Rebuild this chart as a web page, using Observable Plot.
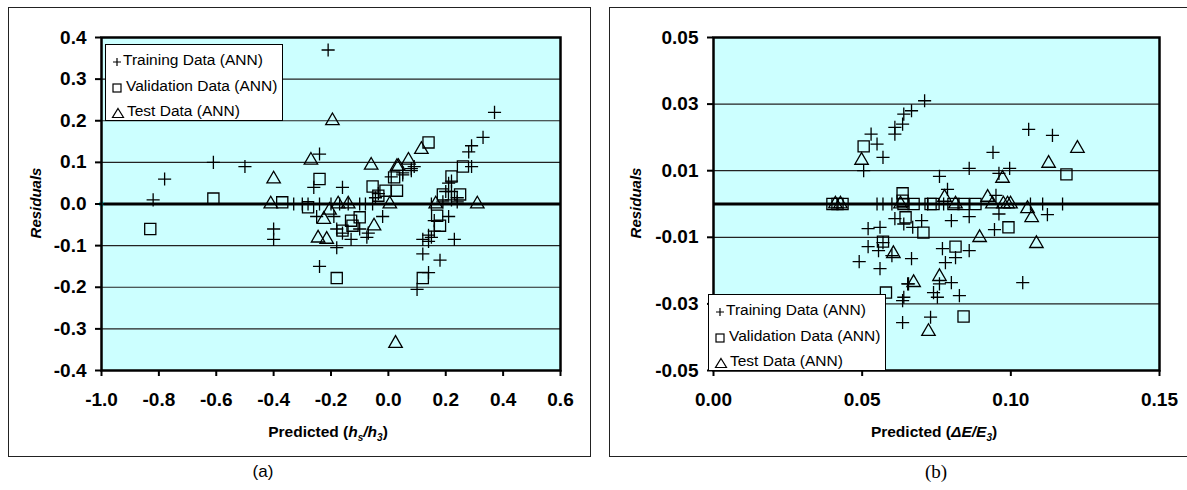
<!DOCTYPE html>
<html><head><meta charset="utf-8">
<script src="https://cdn.jsdelivr.net/npm/d3@7"></script>
<script src="https://cdn.jsdelivr.net/npm/@observablehq/plot@0.6"></script>
<style>
body{margin:0;background:#fff;font-family:"Liberation Sans",Arial,sans-serif;}
#root{position:relative;width:1187px;height:490px;overflow:hidden;background:#fff;}
.frame{position:absolute;border:1.5px solid #222;box-sizing:border-box;}
.panel{position:absolute;}
.ytitle{position:absolute;font-weight:bold;font-style:italic;font-size:15px;transform:translate(-50%,-50%) rotate(-90deg);white-space:nowrap;}
.xtitle{position:absolute;font-weight:bold;font-size:15.5px;transform:translate(-50%,-50%);white-space:nowrap;}
.caption{position:absolute;font-size:17px;transform:translate(-50%,-50%);white-space:nowrap;}
.legend{position:absolute;background:#fff;border:1px solid #000;box-sizing:border-box;font-size:15.5px;width:178px;height:77px;}
.legend .sym{position:absolute;}
.legend .lab{position:absolute;white-space:nowrap;transform:translateY(-50%);}
</style></head><body><div id="root"></div>
<script>
// ---------- Data ----------
const seriesNames = ["Training Data (ANN)", "Validation Data (ANN)", "Test Data (ANN)"];

// Panel (a): Predicted (hs/h3) vs residuals
const trainingA = [
[-0.82,0.01],[-0.78,0.06],[-0.61,0.10],[-0.50,0.09],[-0.40,-0.06],[-0.40,-0.085],
[-0.21,0.37],[-0.24,0.12],[-0.26,0.04],[-0.16,0.04],
[-0.33,0],[-0.30,0],[-0.28,0],[-0.24,0],[-0.20,0],[-0.17,0],[-0.14,0],[-0.10,0],[-0.08,0],[-0.055,0],
[-0.25,-0.03],[-0.19,-0.03],[-0.18,-0.06],[-0.16,-0.07],[-0.13,-0.085],[-0.10,-0.06],[-0.07,-0.07],[-0.075,-0.08],[-0.02,-0.03],[-0.18,-0.105],[-0.24,-0.15],
[0.37,0.22],[0.33,0.16],[0.29,0.14],[0.28,0.125],[0.08,0.08],[0.05,0.07],[0.29,0.09],[0.21,0.05],[0.20,0.03],[0.22,0.03],[0.24,0.015],
[0.21,-0.03],[0.16,-0.04],[0.16,-0.065],[0.15,-0.08],[0.14,-0.09],[0.23,-0.085],[0.12,-0.12],[0.18,-0.135],[0.14,-0.165],[0.10,-0.205],
[0.15,0],[0.19,0.005],[0.24,0.005],[-0.035,0.025],[-0.045,0.015],[0.01,0.065],[0.05,0.075],[0.08,0.085],[0.09,0.09],
[0.12,-0.085],[0.14,-0.075],[0.22,0.01],[0.22,0.055]
];
const validationA = [
[-0.83,-0.06],[-0.61,0.013],[-0.37,0.004],[-0.24,0.06],[-0.28,-0.008],[-0.055,0.042],[-0.01,0.032],[-0.035,0.02],[0.02,0.064],[0.03,0.032],
[-0.13,-0.04],[-0.10,-0.032],[-0.125,-0.052],[-0.16,-0.064],[-0.18,-0.178],[0.14,0.148],[0.26,0.09],[0.22,0.066],[0.19,0.023],[0.25,0.023],
[0.17,-0.028],[0.18,-0.052],[0.12,-0.178]
];
const testA = [
[-0.40,0.06],[-0.41,0],[-0.27,0.105],[-0.195,0.20],[-0.06,0.093],[0.03,0.09],[-0.175,0],[-0.14,0],[0.005,0],[-0.205,-0.015],
[-0.225,-0.037],[-0.05,-0.053],[-0.245,-0.082],[-0.215,-0.085],[0.115,0.131],[0.07,0.105],[0.035,0.09],[0.165,0],[0.31,0],[0.025,-0.335]
];
const markerA = [[-1.0,0]];
const xTicksA = [-1.0,-0.8,-0.6,-0.4,-0.2,0.0,0.2,0.4,0.6];
const yTicksA = [-0.4,-0.3,-0.2,-0.1,0.0,0.1,0.2,0.3,0.4];
const gridA = [-0.3,-0.2,-0.1,0.1,0.2,0.3];

// Panel (b): Predicted (ΔE/E3) vs residuals
const trainingB = [
[0.053,0.021],[0.055,0.018],[0.057,0.014],[0.0505,0.010],[0.061,0.023],[0.061,0.021],[0.0636,0.024],[0.064,0.027],[0.0666,0.028],[0.071,0.031],
[0.055,0],[0.057,0],[0.060,0],
[0.061,-0.0044],[0.064,-0.006],[0.052,-0.0074],[0.056,-0.007],[0.057,-0.0116],[0.052,-0.0128],[0.0555,-0.014],[0.060,-0.0155],[0.049,-0.0173],[0.056,-0.0194],[0.0656,-0.024],[0.0636,-0.029],[0.064,-0.028],[0.0636,-0.0356],
[0.106,0.0224],[0.114,0.0206],[0.094,0.0155],[0.086,0.0107],[0.0996,0.0107],[0.096,0.0092],[0.076,0.0083],[0.0787,0.0044],[0.095,0.0026],
[0.072,0],[0.0774,0],[0.1066,0],[0.1107,0],[0.1174,0],
[0.1123,-0.0032],[0.096,-0.003],[0.070,-0.005],[0.067,-0.007],[0.080,-0.005],[0.086,-0.0038],[0.0945,-0.0077],[0.077,-0.0134],[0.086,-0.014],
[0.0814,-0.0161],[0.078,-0.0176],[0.0666,-0.0164],[0.076,-0.024],[0.080,-0.0236],[0.0653,-0.024],[0.074,-0.0266],[0.0753,-0.028],[0.0827,-0.0275],[0.104,-0.0236],[0.073,-0.034]
];
const validationB = [
[0.0505,0.0173],[0.040,0],[0.0417,0],[0.0434,0],[0.0636,0.0032],[0.0636,0.001],[0.0646,-0.004],[0.057,-0.0113],[0.058,-0.0266],[0.1187,0.0089],
[0.0639,0],[0.0673,0],[0.073,0],[0.074,0],[0.0807,0],[0.0841,0],[0.0881,0],[0.0706,-0.0086],[0.0992,-0.007],[0.0814,-0.0128],[0.0841,-0.0338]
];
const testB = [
[0.0498,0.0131],[0.041,0],[0.0427,0],[0.0629,0],[0.0605,-0.0149],[0.1224,0.0167],[0.1127,0.0122],[0.0972,0.0077],[0.0777,0.002],[0.0922,0.002],
[0.0814,0],[0.0938,0],[0.0975,0],[0.0989,0],[0.0999,0],[0.1056,-0.0014],[0.107,-0.0041],[0.0895,-0.0101],[0.1086,-0.0119],[0.0673,-0.0236],[0.076,-0.0218],[0.0723,-0.0383]
];
const xTicksB = [0.00,0.05,0.10,0.15];
const yTicksB = [-0.05,-0.03,-0.01,0.01,0.03,0.05];
const gridB = [-0.03,-0.01,0.01,0.03];

// ---------- Drawing ----------
const root = document.getElementById("root");
const BG = "#CCFFFF";
const FONT = "'Liberation Sans', Arial, sans-serif";

function panel({left, width, ml, mr, xDomain, yDomain, xTicks, yTicks, grid, digitsX, digitsY, training, validation, test, extra}) {
  const marks = [
    Plot.frame({fill: BG, stroke: null}),
    Plot.ruleY(grid, {stroke: "#222", strokeWidth: 1.2}),
    Plot.ruleY([0], {stroke: "#000", strokeWidth: 3}),
    Plot.dot(training, {x: d => d[0], y: d => d[1], symbol: "plus", r: 4.3, stroke: "#000", strokeWidth: 1.3}),
    Plot.dot(validation, {x: d => d[0], y: d => d[1], symbol: "square", r: 6.3, stroke: "#000", fill: "none", strokeWidth: 1.3}),
    Plot.dot(test, {x: d => d[0], y: d => d[1], symbol: "triangle", r: 5, stroke: "#000", fill: "none", strokeWidth: 1.3}),
  ];
  if (extra) marks.push(Plot.dot(extra, {x: d => d[0], y: d => d[1], symbol: "times", r: 2, stroke: "#19c6c6", strokeWidth: 1.2}));
  marks.push(
    Plot.frame({stroke: "#000", strokeWidth: 2.5}),
    Plot.axisX({ticks: xTicks, tickFormat: d => d.toFixed(digitsX), tickSize: 6, tickPadding: 16, strokeWidth: 2, label: null,
      fontSize: 19, fontWeight: "bold", fontFamily: FONT}),
    Plot.axisY({ticks: yTicks, tickFormat: d => d.toFixed(digitsY), tickSize: 6, tickPadding: 9, strokeWidth: 2, label: null,
      fontSize: 19, fontWeight: "bold", fontFamily: FONT})
  );
  const svg = Plot.plot({
    width, height: 450,
    marginLeft: ml, marginRight: mr, marginTop: 30, marginBottom: 87,
    style: {background: "transparent", fontFamily: FONT, fontSize: "19px", fontWeight: "bold", color: "#000", overflow: "visible"},
    x: {domain: xDomain},
    y: {domain: yDomain},
    marks
  });
  const wrap = document.createElement("div");
  wrap.className = "panel";
  wrap.style.left = left + "px";
  wrap.style.top = "7px";
  wrap.appendChild(svg);
  root.appendChild(wrap);
}

function addFrame(left, top, w, h) {
  const f = document.createElement("div");
  f.className = "frame";
  Object.assign(f.style, {left: left + "px", top: top + "px", width: w + "px", height: h + "px"});
  root.appendChild(f);
}
function addHTML(cls, html, x, y, extraStyle) {
  const d = document.createElement("div");
  d.className = cls;
  d.innerHTML = html;
  d.style.left = x + "px";
  d.style.top = y + "px";
  if (extraStyle) Object.assign(d.style, extraStyle);
  root.appendChild(d);
}
const symSvg = {
  plus: '<svg width="12" height="12"><path d="M6,2V10M2,6H10" stroke="#000" stroke-width="1.2"/></svg>',
  square: '<svg width="12" height="12"><rect x="2" y="2" width="8" height="8" fill="none" stroke="#000" stroke-width="1.2"/></svg>',
  triangle: '<svg width="14" height="12"><path d="M7,1.5L12.5,10.5H1.5Z" fill="none" stroke="#000" stroke-width="1.2"/></svg>'
};
function addLegend(x, y) {
  const lg = document.createElement("div");
  lg.className = "legend";
  lg.style.left = x + "px";
  lg.style.top = y + "px";
  const rows = [["plus", 15, 5, 17], ["square", 41, 5, 20], ["triangle", 66, 5, 21]];
  rows.forEach(([s, cy, sx, tx], i) => {
    const sd = document.createElement("div");
    sd.className = "sym";
    sd.innerHTML = symSvg[s];
    sd.style.left = sx + "px";
    sd.style.top = (cy - 6) + "px";
    lg.appendChild(sd);
    const t = document.createElement("div");
    t.className = "lab";
    t.textContent = seriesNames[i];
    t.style.left = tx + "px";
    t.style.top = cy + "px";
    lg.appendChild(t);
  });
  root.appendChild(lg);
}

// frames
addFrame(8, 7, 583, 450);
addFrame(609, 7, 580, 450);

panel({left: 8, width: 583, ml: 93, mr: 31, xDomain: [-1, 0.6], yDomain: [-0.4, 0.4],
  xTicks: xTicksA, yTicks: yTicksA, grid: gridA, digitsX: 1, digitsY: 1,
  training: trainingA, validation: validationA, test: testA, extra: markerA});
panel({left: 609, width: 578, ml: 104, mr: 28, xDomain: [0, 0.15], yDomain: [-0.05, 0.05],
  xTicks: xTicksB, yTicks: yTicksB, grid: gridB, digitsX: 2, digitsY: 2,
  training: trainingB, validation: validationB, test: testB});

addHTML("ytitle", "Residuals", 35, 203);
addHTML("ytitle", "Residuals", 635, 203);
addHTML("xtitle", 'Predicted (<i>h<sub style="font-size:10px">s</sub>/h<sub style="font-size:10px">3</sub></i>)', 328, 433);
addHTML("xtitle", 'Predicted (<i>ΔE/E<sub style="font-size:10px">3</sub></i>)', 934, 433);
addHTML("caption", "(a)", 263, 472);
addHTML("caption", "(b)", 936, 472, {fontFamily: "'Liberation Serif', 'Times New Roman', serif", fontSize: "19px"});

addLegend(105, 44);
addLegend(708, 294);
</script></body></html>
